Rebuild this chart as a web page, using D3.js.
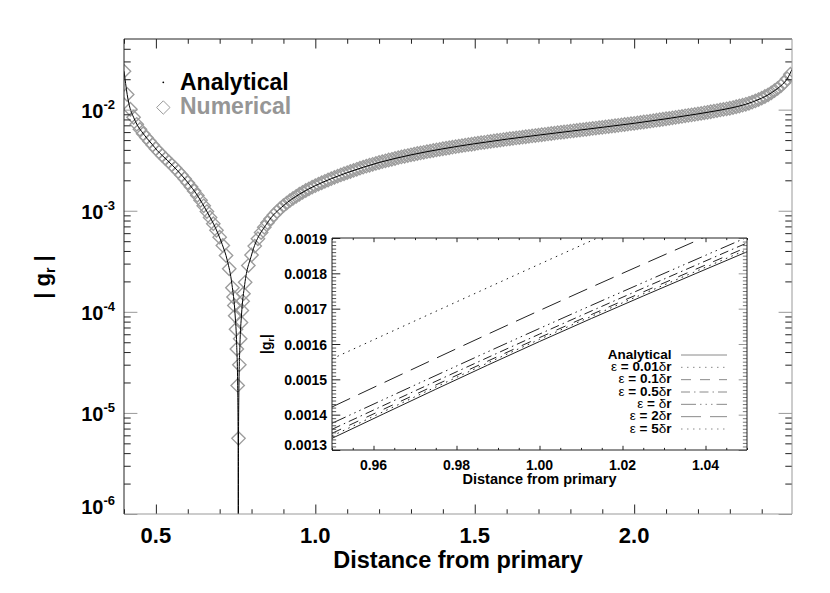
<!DOCTYPE html>
<html lang="en">
<head>
<meta charset="utf-8">
<title>|g_r| versus distance from primary</title>
<style>
  body { margin: 0; background: #fff; }
  svg { display: block; }
  text { font-family: "Liberation Sans", Arial, Helvetica, sans-serif; font-weight: bold; }
</style>
</head>
<body>
<svg id="chart" width="830" height="593"></svg>
<script src="https://cdn.jsdelivr.net/npm/d3@7"></script>
<script>
// ---- data ----
// analytical |g_r| (solid black line)
var analyticalX = [0.400, 0.405, 0.410, 0.415, 0.421, 0.430, 0.442, 0.455, 0.473, 0.489,
                   0.504, 0.520, 0.536, 0.567, 0.599, 0.630, 0.661, 0.688, 0.708, 0.724,
                   0.7385, 0.7485, 0.7535, 0.7565, 0.7580, 0.7585, 0.7590, 0.7605, 0.7635, 0.7685,
                   0.7785, 0.80, 0.85, 0.90, 0.95, 1.00, 1.05, 1.10, 1.20, 1.30,
                   1.40, 1.50, 1.60, 1.70, 1.80, 1.90, 2.00, 2.10, 2.20, 2.25,
                   2.30, 2.35, 2.40, 2.42, 2.44, 2.46, 2.48, 2.495];
var analyticalG = [2.40e-2, 1.82e-2, 1.41e-2, 1.16e-2, 9.84e-3, 8.41e-3, 7.00e-3, 6.10e-3, 5.16e-3, 4.51e-3,
                   3.95e-3, 3.52e-3, 3.15e-3, 2.51e-3, 1.92e-3, 1.42e-3, 9.70e-4, 6.64e-4, 4.65e-4, 3.22e-4,
                   1.87e-4, 9.3e-5, 4.65e-5, 1.86e-5, 4.7e-6, 1e-7, 4.7e-6, 1.86e-5, 4.65e-5, 9.3e-5,
                   1.86e-4, 3.65e-4, 7.62e-4, 1.122e-3, 1.456e-3, 1.771e-3, 2.075e-3, 2.38e-3, 3.00e-3, 3.57e-3,
                   4.10e-3, 4.605e-3, 5.105e-3, 5.60e-3, 6.12e-3, 6.69e-3, 7.33e-3, 8.12e-3, 9.08e-3, 9.65e-3,
                   1.033e-2, 1.13e-2, 1.30e-2, 1.40e-2, 1.54e-2, 1.72e-2, 2.02e-2, 2.50e-2];

// numerical |g_r| (grey diamonds), log10 values every 0.01 from 0.40; null = see dip list
var numStart = 0.40, numStep = 0.01;
var numericalLog10G = [
  -1.620,-1.850,-1.996,-2.075,-2.145,-2.195,-2.238,-2.276,-2.313,-2.349,
  -2.386,-2.420,-2.453,-2.484,-2.515,-2.546,-2.578,-2.611,-2.646,-2.684,
  -2.722,-2.762,-2.804,-2.848,-2.897,-2.951,-3.008,-3.066,-3.128,-3.193,
  -3.261,-3.343,-3.443,-3.574,-3.762,null,null,null,-3.708,-3.542,
  -3.438,-3.350,-3.277,-3.216,-3.164,-3.118,-3.078,-3.041,-3.008,-2.978,
  -2.950,-2.924,-2.900,-2.878,-2.857,-2.837,-2.818,-2.800,-2.783,-2.767,
  -2.752,-2.737,-2.723,-2.709,-2.696,-2.683,-2.670,-2.658,-2.646,-2.634,
  -2.623,-2.612,-2.601,-2.590,-2.579,-2.569,-2.559,-2.550,-2.541,-2.532,
  -2.523,-2.515,-2.506,-2.498,-2.491,-2.483,-2.475,-2.468,-2.461,-2.454,
  -2.447,-2.441,-2.434,-2.428,-2.422,-2.416,-2.410,-2.404,-2.398,-2.393,
  -2.387,-2.382,-2.377,-2.371,-2.366,-2.361,-2.356,-2.351,-2.346,-2.342,
  -2.337,-2.332,-2.327,-2.323,-2.318,-2.314,-2.309,-2.305,-2.301,-2.296,
  -2.292,-2.288,-2.284,-2.280,-2.276,-2.272,-2.268,-2.264,-2.260,-2.256,
  -2.252,-2.248,-2.244,-2.240,-2.236,-2.232,-2.228,-2.224,-2.221,-2.217,
  -2.213,-2.209,-2.205,-2.201,-2.198,-2.194,-2.190,-2.186,-2.182,-2.178,
  -2.175,-2.171,-2.167,-2.163,-2.159,-2.155,-2.151,-2.147,-2.143,-2.139,
  -2.135,-2.131,-2.126,-2.122,-2.118,-2.114,-2.109,-2.104,-2.100,-2.095,
  -2.090,-2.086,-2.081,-2.076,-2.071,-2.067,-2.061,-2.056,-2.052,-2.047,
  -2.042,-2.037,-2.031,-2.026,-2.021,-2.015,-2.009,-2.003,-1.997,-1.992,
  -1.986,-1.979,-1.971,-1.964,-1.956,-1.947,-1.937,-1.926,-1.914,-1.900,
  -1.886,-1.870,-1.854,-1.834,-1.812,-1.789,-1.764,-1.733,-1.695,-1.650];
// numerical points close to the zero crossing
var dipX = [0.7435, 0.7461, 0.7487, 0.7513, 0.7539, 0.7565, 0.7591, 0.7617, 0.7643, 0.7669, 0.7695, 0.7721, 0.7747];
var dipG = [1.40e-4, 1.157e-4, 9.14e-5, 6.72e-5, 4.29e-5, 1.87e-5, 5.6e-6, 2.99e-5, 5.41e-5, 7.84e-5, 1.03e-4, 1.27e-4, 1.51e-4];

var xTicksMain = [0.5, 1.0, 1.5, 2.0];
var yTickExpMain = [-6, -5, -4, -3, -2];

// inset: zoom around 1.0 for several softening lengths
var insetX = [0.95, 1.00, 1.05];
var insetNames = ["Analytical", "ε = 0.01δr", "ε = 0.1δr", "ε = 0.5δr", "ε = δr", "ε = 2δr", "ε = 5δr"];
var insetAnalytical = [0.001333, 0.001607, 0.001861];
var insetEps001 = [0.0013396, 0.001613, 0.001867];
var insetEps01 = [0.0013472, 0.001618, 0.001874];
var insetEps05 = [0.0013585, 0.001628, 0.001886];
var insetEps1 = [0.0013756, 0.001644, 0.001902];
var insetEps2 = [0.0014217, 0.0016947, 0.001955];
var insetEps5 = [0.001558, 0.001826, 0.00209];
var insetXTicks = [0.96, 0.98, 1.00, 1.02, 1.04];
var insetYTicks = [0.0013, 0.0014, 0.0015, 0.0016, 0.0017, 0.0018, 0.0019];

var insetDash = ["none", "1.5,4.5", "10,9", "9,4,1.5,4", "15,4,1.5,4,1.5,4,1.5,4", "20,9", "1.5,4.5"];

// ---- setup ----
var svg = d3.select("#chart");
var dark = "#222", grey = "#999";

var x = d3.scaleLinear().domain([0.4, 2.495]).range([124, 792]);
var y = d3.scaleLog().domain([1e-6, 0.05]).range([514, 39]);

var defs = svg.append("defs");
defs.append("clipPath").attr("id", "clipMain").append("rect")
    .attr("x", 124).attr("y", 39).attr("width", 668).attr("height", 475);

function ticks(g, axisFn, scale, values, size, pos, color) {
  var a = g.append("g").attr("transform", pos)
      .call(axisFn(scale).tickValues(values).tickSize(-size).tickSizeOuter(0).tickFormat(""));
  a.select(".domain").remove();
  a.selectAll(".tick line").attr("stroke", color);
  return a;
}

function frame(g, xs, ys, cols) {
  var l = xs.range()[0], r = xs.range()[1], b = ys.range()[0], t = ys.range()[1];
  var segs = [[l, t, r, t, cols[0]], [r, t, r, b, cols[1]], [l, b, r, b, cols[2]], [l, t, l, b, cols[3]]];
  g.selectAll(null).data(segs).enter().append("line")
      .attr("x1", d => d[0]).attr("y1", d => d[1]).attr("x2", d => d[2]).attr("y2", d => d[3])
      .attr("stroke", d => d[4]).attr("stroke-width", 1);
}

// ---- main plot ----
var main = svg.append("g");

var numPts = [];
numericalLog10G.forEach(function (v, i) {
  if (v !== null) numPts.push([numStart + i * numStep, Math.pow(10, v)]);
});
dipX.forEach(function (v, i) { numPts.push([v, dipG[i]]); });

var diamond = "M0,-6.7L6.7,0L0,6.7L-6.7,0Z";
var plotArea = main.append("g").attr("clip-path", "url(#clipMain)");
plotArea.selectAll(".num").data(numPts).enter().append("path")
    .attr("class", "num")
    .attr("d", diamond)
    .attr("transform", d => "translate(" + x(d[0]) + "," + y(d[1]) + ")")
    .attr("fill", "none").attr("stroke", "#9c9c9c").attr("stroke-width", 1.35);

var anaLine = d3.line().x(d => x(d[0])).y(d => y(d[1])).curve(d3.curveMonotoneX);
plotArea.append("path")
    .datum(analyticalX.map((v, i) => [v, analyticalG[i]]))
    .attr("d", anaLine)
    .attr("fill", "none").attr("stroke", "#000").attr("stroke-width", 1);

// ticks
var xMinor = d3.range(4, 25).map(d => d / 10).filter(d => xTicksMain.indexOf(d) < 0);
ticks(main, d3.axisBottom, x, xMinor, 4.75, "translate(0,514)", dark);
ticks(main, d3.axisBottom, x, xTicksMain, 9.5, "translate(0,514)", dark);
ticks(main, d3.axisTop, x, xMinor, 4.75, "translate(0,39)", dark);
ticks(main, d3.axisTop, x, xTicksMain, 9.5, "translate(0,39)", dark);

var yMajor = yTickExpMain.map(e => Math.pow(10, e));
var yMinor = [];
yTickExpMain.forEach(function (e) {
  for (var m = 2; m <= 9; m++) { var v = m * Math.pow(10, e); if (v < 0.05) yMinor.push(v); }
});
ticks(main, d3.axisLeft, y, yMinor, 6.7, "translate(124,0)", dark);
ticks(main, d3.axisLeft, y, yMajor, 13.4, "translate(124,0)", grey);
ticks(main, d3.axisRight, y, yMinor, 6.7, "translate(792,0)", dark);
ticks(main, d3.axisRight, y, yMajor, 13.4, "translate(792,0)", grey);

frame(main, x, y, [dark, grey, grey, dark]);

// tick labels
main.selectAll(".xl").data(xTicksMain).enter().append("text")
    .attr("x", d => x(d)).attr("y", 543).attr("text-anchor", "middle")
    .attr("font-size", 22).text(d => d.toFixed(1));

main.selectAll(".yl").data(yTickExpMain).enter().append("text")
    .attr("x", 115).attr("y", d => Math.min(y(Math.pow(10, d)) + 8, 513.5))
    .attr("text-anchor", "end").attr("font-size", 20)
    .each(function (d) {
      var t = d3.select(this);
      t.append("tspan").text("10");
      t.append("tspan").attr("font-size", 13).attr("dy", -9).text(String(d));
    });

main.append("text").attr("x", 458).attr("y", 568).attr("text-anchor", "middle")
    .attr("font-size", 23.5).text("Distance from primary");

var yt = main.append("text").attr("transform", "translate(50,277) rotate(-90)")
    .attr("text-anchor", "middle").attr("font-size", 22);
yt.append("tspan").text("| g");
yt.append("tspan").attr("font-size", 14).attr("dy", 5).text("r");
yt.append("tspan").attr("dy", -5).text(" |");

// legend
main.append("circle").attr("cx", 163.3).attr("cy", 82.3).attr("r", 0.9).attr("fill", "#000");
main.append("text").attr("x", 180).attr("y", 90).attr("font-size", 23).attr("fill", "#000").text("Analytical");
main.append("path").attr("d", diamond).attr("transform", "translate(163.3,107.5)")
    .attr("fill", "none").attr("stroke", grey);
main.append("text").attr("x", 180).attr("y", 113.5).attr("font-size", 23).attr("fill", "#969696").text("Numerical");

// ---- inset ----
var ix = d3.scaleLinear().domain([0.95, 1.05]).range([332, 747]);
var iy = d3.scaleLinear().domain([0.0013, 0.0019]).range([450, 238]);
defs.append("clipPath").attr("id", "clipInset").append("rect")
    .attr("x", 332).attr("y", 238).attr("width", 415).attr("height", 212);

var inset = svg.append("g");
inset.append("rect").attr("x", 332).attr("y", 238).attr("width", 415).attr("height", 212).attr("fill", "#fff");

var insetSeries = [insetAnalytical, insetEps001, insetEps01, insetEps05, insetEps1, insetEps2, insetEps5];
var iLine = d3.line().x((d, i) => ix(insetX[i])).y(d => iy(d)).curve(d3.curveMonotoneX);
inset.append("g").attr("clip-path", "url(#clipInset)")
  .selectAll("path").data(insetSeries).enter().append("path")
    .attr("d", iLine)
    .attr("fill", "none").attr("stroke", dark).attr("stroke-width", 1)
    .attr("stroke-dasharray", (d, i) => insetDash[i]);

var ixMinor = d3.range(190, 211).map(d => d / 200).filter(d => insetXTicks.every(t => Math.abs(t - d) > 1e-6));
var iyMinor = d3.range(130, 191).map(d => d / 100000).filter(d => insetYTicks.every(t => Math.abs(t - d) > 1e-9));
ticks(inset, d3.axisBottom, ix, ixMinor, 2.1, "translate(0,450)", dark);
ticks(inset, d3.axisBottom, ix, insetXTicks, 4.2, "translate(0,450)", dark);
ticks(inset, d3.axisTop, ix, ixMinor, 2.1, "translate(0,238)", dark);
ticks(inset, d3.axisTop, ix, insetXTicks, 4.2, "translate(0,238)", dark);
ticks(inset, d3.axisLeft, iy, iyMinor, 4.15, "translate(332,0)", "#555");
ticks(inset, d3.axisLeft, iy, insetYTicks, 8.3, "translate(332,0)", dark);
ticks(inset, d3.axisRight, iy, iyMinor, 4.15, "translate(747,0)", "#777");
ticks(inset, d3.axisRight, iy, insetYTicks, 8.3, "translate(747,0)", grey);
frame(inset, ix, iy, [dark, dark, dark, dark]);

inset.selectAll(".ixl").data(insetXTicks).enter().append("text")
    .attr("x", d => ix(d)).attr("y", 469.5).attr("text-anchor", "middle")
    .attr("font-size", 14).text(d => d.toFixed(2));
inset.selectAll(".iyl").data(insetYTicks).enter().append("text")
    .attr("x", 327).attr("y", d => Math.min(iy(d) + 5.5, 450))
    .attr("text-anchor", "end").attr("font-size", 14).text(d => d.toFixed(4));
inset.append("text").attr("x", 539.5).attr("y", 484).attr("text-anchor", "middle")
    .attr("font-size", 14.5).text("Distance from primary");
var iyt = inset.append("text").attr("transform", "translate(271,344) rotate(-90)")
    .attr("text-anchor", "middle").attr("font-size", 14);
iyt.append("tspan").text("|g");
iyt.append("tspan").attr("font-size", 9).attr("dy", 3).text("r");
iyt.append("tspan").attr("dy", -3).text("|");

// inset legend
var rowY = d3.scaleLinear().domain([0, 6]).range([355, 429]);
var leg = inset.selectAll(".leg").data(insetNames).enter().append("g");
leg.append("line")
    .attr("x1", 681).attr("x2", 727).attr("y1", (d, i) => rowY(i)).attr("y2", (d, i) => rowY(i))
    .attr("stroke", "#8a8a8a").attr("stroke-width", 1)
    .attr("stroke-dasharray", (d, i) => insetDash[i]);
leg.append("text")
    .attr("x", 671.5).attr("y", (d, i) => rowY(i) + 3.5)
    .attr("text-anchor", "end").attr("font-size", 13.5)
    .each(function (d) {
      var t = d3.select(this);
      d.split(/([εδ])/).filter(s => s.length).forEach(function (s) {
        var sp = t.append("tspan").text(s);
        if (s === "ε" || s === "δ") sp.attr("font-weight", "normal");
      });
    });
</script>
</body>
</html>
